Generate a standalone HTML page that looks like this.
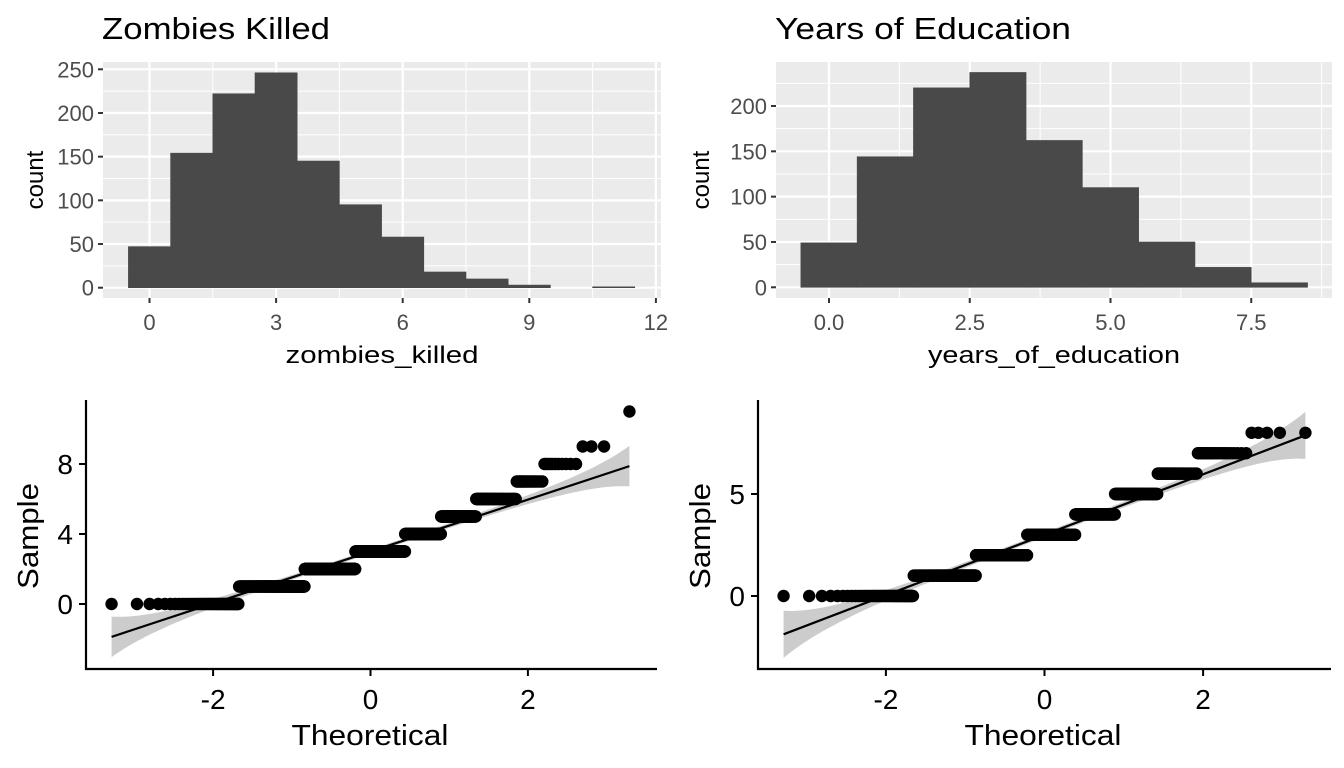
<!DOCTYPE html>
<html><head><meta charset="utf-8">
<style>
html,body{margin:0;padding:0;background:#fff;}
svg{display:block;font-family:"Liberation Sans",Arial,sans-serif;}
</style></head>
<body>
<svg id="c" width="1344" height="768" viewBox="0 0 1344 768" xmlns="http://www.w3.org/2000/svg">
<text x="102" y="39" font-size="31" textLength="228" lengthAdjust="spacingAndGlyphs">Zombies Killed</text>
<text x="775" y="39" font-size="31" textLength="296" lengthAdjust="spacingAndGlyphs">Years of Education</text>
</svg>
<script>
// ---- data ----
const zombieValues = [0,1,2,3,4,5,6,7,8,9,10,11];
const zombieCounts = [47,154,222,246,145,95,58,18,10,3,0,1];
const eduValues = [0,1,2,3,4,5,6,7,8];
const eduCounts = [49,144,220,237,162,110,50,22,5];
const zombieXTicks = [0,3,6,9,12];
const zombieYTicks = [0,50,100,150,200,250];
const eduXTicks = [0,2.5,5,7.5];
const eduXTickLabels = ["0.0","2.5","5.0","7.5"];
const eduYTicks = [0,50,100,150,200];
const qqXTicks = [-2,0,2];
const zombieQQYTicks = [0,4,8];
const eduQQYTicks = [0,5];

const svg = document.getElementById('c');
const NS = 'http://www.w3.org/2000/svg';
function mk(tag, attrs, parent){
  const e = document.createElementNS(NS, tag);
  for (const k in attrs) e.setAttribute(k, attrs[k]);
  (parent||svg).appendChild(e);
  return e;
}
function qnorm(p){
  const a=[-39.69683028665376,220.9460984245205,-275.9285104469687,138.3577518672690,-30.66479806614716,2.506628277459239];
  const b=[-54.47609879822406,161.5858368580409,-155.6989798598866,66.80131188771972,-13.28068155211607];
  const c=[-0.007784894002430293,-0.3223964580411365,-2.400758277161838,-2.549732539343734,4.374664141464968,2.938163982698783];
  const d=[0.007784695709041462,0.3224671290700398,2.445134137142996,3.754408661907416];
  const pl=0.02425; let q,r;
  if(p<pl){q=Math.sqrt(-2*Math.log(p));return (((((c[0]*q+c[1])*q+c[2])*q+c[3])*q+c[4])*q+c[5])/((((d[0]*q+d[1])*q+d[2])*q+d[3])*q+1);}
  if(p>1-pl){q=Math.sqrt(-2*Math.log(1-p));return -(((((c[0]*q+c[1])*q+c[2])*q+c[3])*q+c[4])*q+c[5])/((((d[0]*q+d[1])*q+d[2])*q+d[3])*q+1);}
  q=p-0.5;r=q*q;return (((((a[0]*r+a[1])*r+a[2])*r+a[3])*r+a[4])*r+a[5])*q/(((((b[0]*r+b[1])*r+b[2])*r+b[3])*r+b[4])*r+1);
}
function dnorm(z){return Math.exp(-z*z/2)/Math.sqrt(2*Math.PI);}
function erf(x){const s=x<0?-1:1;x=Math.abs(x);const t=1/(1+0.3275911*x);
  const y=1-(((((1.061405429*t-1.453152027)*t)+1.421413741)*t-0.284496736)*t+0.254829592)*t*Math.exp(-x*x);return s*y;}

function histogram(cfg){
  const {name,values,counts,xTicks,xLabels,yTicks,L,R,T,B,x0,xs,y0,ys,xMinor,yMinor,xTitle,titleLen,yTitleX} = cfg;
  const X = v => x0 + v*xs;
  const Y = v => y0 - v*ys;
  const bg = mk('rect',{x:L,y:T,width:R-L,height:B-T,fill:'#EBEBEB'});
  
  
  xMinor.forEach(v=>{ const l=mk('line',{x1:X(v),x2:X(v),y1:T,y2:B,stroke:'#fff','stroke-width':1});
    
     });
  yMinor.forEach(v=>{ const l=mk('line',{x1:L,x2:R,y1:Y(v),y2:Y(v),stroke:'#fff','stroke-width':1});
    
     });
  xTicks.forEach(v=>{ const l=mk('line',{x1:X(v),x2:X(v),y1:T,y2:B,stroke:'#fff','stroke-width':2.2});
    
     });
  yTicks.forEach(v=>{ const l=mk('line',{x1:L,x2:R,y1:Y(v),y2:Y(v),stroke:'#fff','stroke-width':2.2});
    
     });
  values.forEach((v,i)=>{
    if(counts[i]<=0) return;
    const r = mk('rect',{x:X(v-0.5),y:Y(counts[i]),width:xs,height:counts[i]*ys,fill:'#494949',stroke:'#494949','stroke-width':0.6});
    
    
  });
  xTicks.forEach((v,i)=>{
    const t = mk('line',{x1:X(v),x2:X(v),y1:B,y2:B+5,stroke:'#333','stroke-width':2});
    
    
    const tx = mk('text',{x:X(v),y:B+32,'font-size':22,fill:'#4D4D4D','text-anchor':'middle'});
    tx.textContent = xLabels[i];
    
    
  });
  yTicks.forEach(v=>{
    const t = mk('line',{x1:L-5,x2:L,y1:Y(v),y2:Y(v),stroke:'#333','stroke-width':2});
    
    
    const tx = mk('text',{x:L-9,y:Y(v)+8,'font-size':22,fill:'#4D4D4D','text-anchor':'end'});
    tx.textContent = String(v);
    
    
  });
  const xt = mk('text',{x:(L+R)/2,y:363,'font-size':24,'text-anchor':'middle',textLength:titleLen,lengthAdjust:'spacingAndGlyphs'});
  xt.textContent = xTitle;
  
  
  const cy=(T+B)/2;
  const yt = mk('text',{x:yTitleX,y:cy,'font-size':24,'text-anchor':'middle',transform:`rotate(-90 ${yTitleX} ${cy})`});
  yt.textContent = 'count';
  
  
}

function qq(cfg){
  const {name,values,counts,yTicks,axX,axTop,axY,axRight,x0,xs,y0,ys,titleX,yTitleX} = cfg;
  const X = v => x0 + v*xs;
  const Y = v => y0 - v*ys;
  const sample=[]; values.forEach((v,i)=>{for(let k=0;k<counts[i];k++) sample.push(v);});
  const n=sample.length;
  const theo=sample.map((_,i)=>qnorm((i+0.5)/n));
  const qt=(p)=>{const h=(n-1)*p,lo=Math.floor(h);return sample[lo]+(h-lo)*((sample[Math.min(lo+1,n-1)])-sample[lo]);};
  const z25=qnorm(0.25), z75=qnorm(0.75);
  const slope=(qt(0.75)-qt(0.25))/(z75-z25);
  const inter=qt(0.25)-slope*z25;
  const zmin=theo[0], zmax=theo[n-1];
  const up=[], lo=[];
  for(let k=0;k<=120;k++){
    const z=zmin+(zmax-zmin)*k/120;
    const p=0.5*(1+erf(z/Math.SQRT2));
    const se=slope*Math.sqrt(p*(1-p)/n)/dnorm(z);
    const m=inter+slope*z;
    up.push(`${X(z).toFixed(1)},${Y(m+1.96*se).toFixed(1)}`);
    lo.unshift(`${X(z).toFixed(1)},${Y(m-1.96*se).toFixed(1)}`);
  }
  const band = mk('polygon',{points:up.concat(lo).join(' '),fill:'#CCCCCC'});
  
  
  sample.forEach((v,i)=>{
    const c = mk('circle',{cx:X(theo[i]).toFixed(2),cy:Y(v).toFixed(2),r:6.2,fill:'#000'});
    
    
  });
  const ln = mk('line',{x1:X(zmin),y1:Y(inter+slope*zmin),x2:X(zmax),y2:Y(inter+slope*zmax),stroke:'#000','stroke-width':2.2});
  
  
  const ya = mk('line',{x1:axX,x2:axX,y1:axTop,y2:axY+1,stroke:'#000','stroke-width':2.2});
  
  
  const xa = mk('line',{x1:axX-1,x2:axRight,y1:axY,y2:axY,stroke:'#000','stroke-width':2.2});
  
  
  qqXTicks.forEach(v=>{
    const t = mk('line',{x1:X(v),x2:X(v),y1:axY,y2:axY+7,stroke:'#000','stroke-width':2});
    
    
    const tx = mk('text',{x:X(v),y:709,'font-size':28,'text-anchor':'middle'});
    tx.textContent = String(v);
    
    
  });
  yTicks.forEach(v=>{
    const t = mk('line',{x1:axX-7,x2:axX,y1:Y(v),y2:Y(v),stroke:'#000','stroke-width':2});
    
    
    const tx = mk('text',{x:axX-13,y:Y(v)+10,'font-size':28,'text-anchor':'end'});
    tx.textContent = String(v);
    
    
  });
  const xt = mk('text',{x:titleX,y:745,'font-size':29,'text-anchor':'middle',textLength:157,lengthAdjust:'spacingAndGlyphs'});
  xt.textContent = 'Theoretical';
  
  
  const cy=536;
  const yt = mk('text',{x:yTitleX,y:cy,'font-size':29,'text-anchor':'middle',transform:`rotate(-90 ${yTitleX} ${cy})`,textLength:106,lengthAdjust:'spacingAndGlyphs'});
  yt.textContent = 'Sample';
  
  
}

histogram({name:'zombies-hist',values:zombieValues,counts:zombieCounts,xTicks:zombieXTicks,xLabels:zombieXTicks.map(String),
  yTicks:zombieYTicks,L:103,R:661,T:62,B:298,x0:149.5,xs:42.2,y0:287.7,ys:0.8736,
  xMinor:[1.5,4.5,7.5,10.5],yMinor:[25,75,125,175,225],xTitle:'zombies_killed',titleLen:193,yTitleX:43});
histogram({name:'education-hist',values:eduValues,counts:eduCounts,xTicks:eduXTicks,xLabels:eduXTickLabels,
  yTicks:eduYTicks,L:776,R:1332,T:62,B:298,x0:829,xs:56.3,y0:287.3,ys:0.9065,
  xMinor:[1.25,3.75,6.25,8.75],yMinor:[25,75,125,175,225],xTitle:'years_of_education',titleLen:252,yTitleX:709});
qq({name:'zombies-qq',values:zombieValues,counts:zombieCounts,yTicks:zombieQQYTicks,axX:86,axTop:400,axY:669,axRight:657,
  x0:370.5,xs:78.7,y0:604,ys:17.5,titleX:370,yTitleX:38});
qq({name:'education-qq',values:eduValues,counts:eduCounts,yTicks:eduQQYTicks,axX:758,axTop:400,axY:669,axRight:1331,
  x0:1044.5,xs:79.3,y0:596,ys:20.4,titleX:1043,yTitleX:710});
</script>
</body></html>
